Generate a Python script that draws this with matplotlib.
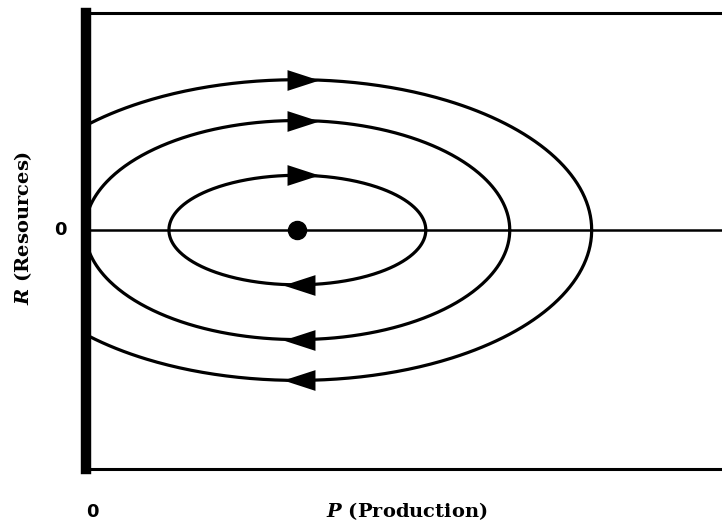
import numpy as np
import matplotlib
matplotlib.use("Agg")
import matplotlib.pyplot as plt
from matplotlib.path import Path

# Data (units: arbitrary, P horizontal, R vertical)
equilibrium = (2.09, 0.0)
semi_p = [1.27, 2.10, 2.91]       # semi-axis along P
semi_r = [0.55, 1.10, 1.51]       # semi-axis along R
arrow_top_p = [2.15, 2.15, 2.15]  # P position of rightward arrows (top)
arrow_bot_p = [2.11, 2.11, 2.11]  # P position of leftward arrows (bottom)
p_lim = (0.0, 6.36)
r_lim = (-2.40, 2.18)

plt.rcParams['mathtext.fontset'] = 'custom'
plt.rcParams['mathtext.it'] = 'DejaVu Serif:italic:bold'
plt.rcParams['mathtext.rm'] = 'DejaVu Serif:bold'

fig = plt.figure(figsize=(7.22, 5.27), dpi=100)
ax = fig.add_axes([86 / 722, 58 / 527, 1 - 86 / 722 + 0.01, 456 / 527])
ax.set_xlim(*p_lim)
ax.set_ylim(*r_lim)

t = np.linspace(0, 2 * np.pi, 600)
for a, b in zip(semi_p, semi_r):
    ax.plot(equilibrium[0] + a * np.cos(t), equilibrium[1] + b * np.sin(t),
            color='black', lw=2.3, solid_capstyle='round')

ax.axhline(0, color='black', lw=1.8)
ax.plot(*equilibrium, 'o', color='black', markersize=13)

tri_right = Path([(-1, -0.65), (1, 0), (-1, 0.65), (-1, -0.65)],
                 [Path.MOVETO, Path.LINETO, Path.LINETO, Path.CLOSEPOLY])
tri_left = Path([(1, -0.65), (-1, 0), (1, 0.65), (1, -0.65)],
                [Path.MOVETO, Path.LINETO, Path.LINETO, Path.CLOSEPOLY])
for a, b, xt, xb in zip(semi_p, semi_r, arrow_top_p, arrow_bot_p):
    yt = equilibrium[1] + b * np.sqrt(max(0.0, 1 - ((xt - equilibrium[0]) / a) ** 2))
    yb = equilibrium[1] - b * np.sqrt(max(0.0, 1 - ((xb - equilibrium[0]) / a) ** 2))
    ax.plot(xt, yt, marker=tri_right, color='black', markersize=23, mew=0)
    ax.plot(xb, yb, marker=tri_left, color='black', markersize=23, mew=0)

for s in ['top', 'bottom']:
    ax.spines[s].set_linewidth(2.2)
ax.spines['left'].set_linewidth(7.5)
ax.spines['right'].set_visible(False)
ax.set_xticks([])
ax.set_yticks([])

ax.text(-0.25, 0.0, '0', ha='center', va='center', fontsize=13,
        family='DejaVu Sans', weight='bold', transform=ax.transData)
fig.text(92 / 722, 1 - 512 / 527, '0', ha='center', va='center', fontsize=13,
         family='DejaVu Sans', weight='bold')
fig.text(407 / 722, 1 - 511 / 527, '$P$ (Production)', ha='center', va='center',
         fontsize=14, family='DejaVu Serif', weight='bold')
fig.text(23 / 722, 1 - 228 / 527, '$R$ (Resources)', ha='center', va='center',
         fontsize=14, family='DejaVu Serif', weight='bold', rotation=90)

fig.savefig('out.png', dpi=100)
